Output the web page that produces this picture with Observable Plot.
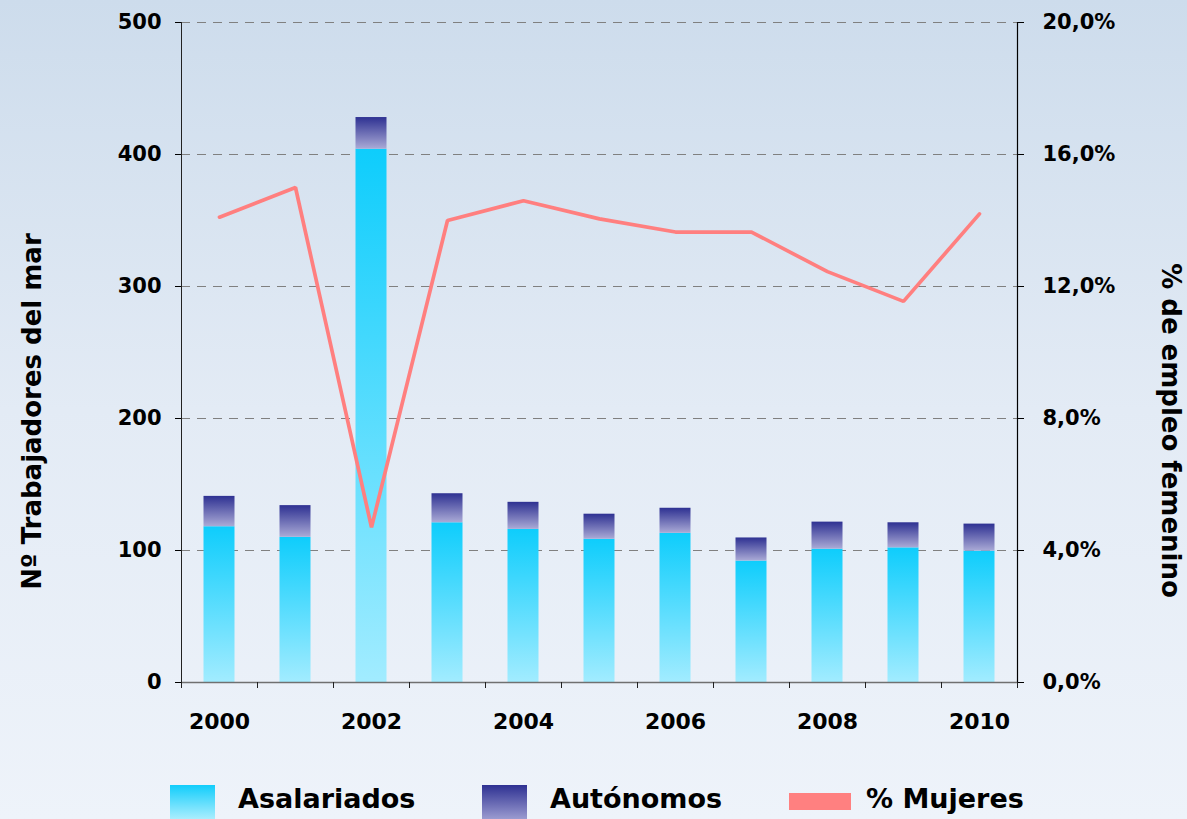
<!DOCTYPE html>
<html>
<head>
<meta charset="utf-8">
<script src="https://cdn.jsdelivr.net/npm/d3@7"></script>
<script src="https://cdn.jsdelivr.net/npm/@observablehq/plot@0.6"></script>
<style>
  html, body { margin: 0; padding: 0; }
  body {
    width: 1187px; height: 819px; overflow: hidden;
    background: linear-gradient(to bottom, #cddcec 0%, #e3ebf5 50%, #eef3fa 100%);
    font-family: "DejaVu Sans", sans-serif;
  }
  #chart svg { display: block; background: transparent; }
  #legend { position: relative; width: 1187px; height: 59px; }
  #legend .sw { position: absolute; }
  #legend .lb { position: absolute; top: 22px; font-weight: bold; font-size: 27px; color: #000; line-height: 34px; }
</style>
</head>
<body>
<svg width="0" height="0" style="position:absolute">
  <defs>
    <linearGradient id="gAsal" x1="0" y1="0" x2="0" y2="1">
      <stop offset="0" stop-color="#0ecdfc"/>
      <stop offset="1" stop-color="#a2ecff"/>
    </linearGradient>
    <linearGradient id="gAut" x1="0" y1="0" x2="0" y2="1">
      <stop offset="0" stop-color="#2e3192"/>
      <stop offset="1" stop-color="#aaaad6"/>
    </linearGradient>
  </defs>
</svg>
<div id="chart"></div>
<div id="legend">
  <div class="sw" style="left:170px;top:25px;width:45px;height:34px;background:linear-gradient(to bottom,#12cdfb,#aaeefe);"></div>
  <div class="lb" style="left:238px;">Asalariados</div>
  <div class="sw" style="left:482px;top:25px;width:45px;height:34px;background:linear-gradient(to bottom,#2e3192,#9b9bd0);"></div>
  <div class="lb" style="left:550px;">Autónomos</div>
  <div class="sw" style="left:789px;top:33px;width:62px;height:17px;background:#ff8080;"></div>
  <div class="lb" style="left:866px;">% Mujeres</div>
</div>
<script>
const years = [2000, 2001, 2002, 2003, 2004, 2005, 2006, 2007, 2008, 2009, 2010];
const asalariados = [118, 110, 404, 121, 116, 108.5, 113, 92, 101, 102, 99.5];
const autonomos = [23, 24, 24, 22, 20.5, 19, 19, 17.5, 20.5, 19, 20.5];
const pctMujeres = [14.1, 15.0, 4.7, 14.0, 14.6, 14.05, 13.65, 13.65, 12.45, 11.55, 14.2];
const leftTicks = [0, 100, 200, 300, 400, 500];
const rightTicks = [0, 4, 8, 12, 16, 20];
const labelYears = [2000, 2002, 2004, 2006, 2008, 2010];

const pctToLeft = 500 / 20;
const rows = years.map((year, i) => ({
  year,
  asal: asalariados[i],
  total: asalariados[i] + autonomos[i],
  pct: pctMujeres[i]
}));

const fontStyle = {fontSize: 21, fontWeight: "bold", fill: "#000"};

const chart = Plot.plot({
  width: 1187,
  height: 760,
  marginLeft: 181,
  marginRight: 170,
  marginTop: 22,
  marginBottom: 78,
  style: {background: "transparent", fontFamily: "DejaVu Sans, sans-serif", color: "#000"},
  x: {type: "linear", domain: [years[0], years[years.length - 1] + 1]},
  y: {domain: [0, 500]},
  marks: [
    Plot.gridY(leftTicks.filter(d => d > 0), {stroke: "#808080", strokeOpacity: 1, strokeDasharray: "9,7", strokeWidth: 1}),
    Plot.rect(rows, {x1: "year", x2: d => d.year + 1, y1: 0, y2: "asal", insetLeft: 22.5, insetRight: 22.5, fill: "url(#gAsal)"}),
    Plot.rect(rows, {x1: "year", x2: d => d.year + 1, y1: "asal", y2: "total", insetLeft: 22.5, insetRight: 22.5, fill: "url(#gAut)"}),
    Plot.line(rows, {x: d => d.year + 0.5, y: d => d.pct * pctToLeft, stroke: "#ff7f7f", strokeWidth: 3.7, strokeLinejoin: "miter"}),
    Plot.ruleY([0], {stroke: "#707070", strokeWidth: 1.5}),
    Plot.ruleX([years[0]], {stroke: "#222", strokeWidth: 1}),
    Plot.ruleX([years[years.length - 1] + 1], {stroke: "#000", strokeWidth: 1.2}),
    Plot.axisY({anchor: "left", ticks: leftTicks, tickSize: 6, tickPadding: 14, label: null, ...fontStyle}),
    Plot.axisY({anchor: "right", ticks: rightTicks.map(d => d * pctToLeft), tickSize: 6, tickPadding: 19, label: null,
      tickFormat: d => (d / pctToLeft).toFixed(1).replace(".", ",") + "%", ...fontStyle}),
    Plot.axisX({ticks: d3.range(years[0], years[years.length - 1] + 2), tickSize: 6, tickFormat: () => "", label: null, stroke: "#222"}),
    Plot.axisX({ticks: labelYears.map(d => d + 0.5), tickSize: 0, tickPadding: 31, tickFormat: d => String(Math.floor(d)), label: null, fontSize: 22, fontWeight: "bold"}),
    Plot.text(["Nº Trabajadores del mar"], {frameAnchor: "left", textAnchor: "middle", dx: -149, dy: 59, rotate: -90, fontSize: 26, fontWeight: "bold", fill: "#000"}),
    Plot.text(["% de empleo femenino"], {frameAnchor: "right", textAnchor: "middle", dx: 153, dy: 78, rotate: 90, fontSize: 26, fontWeight: "bold", fill: "#000"})
  ]
});
document.getElementById("chart").appendChild(chart);
</script>
</body>
</html>
